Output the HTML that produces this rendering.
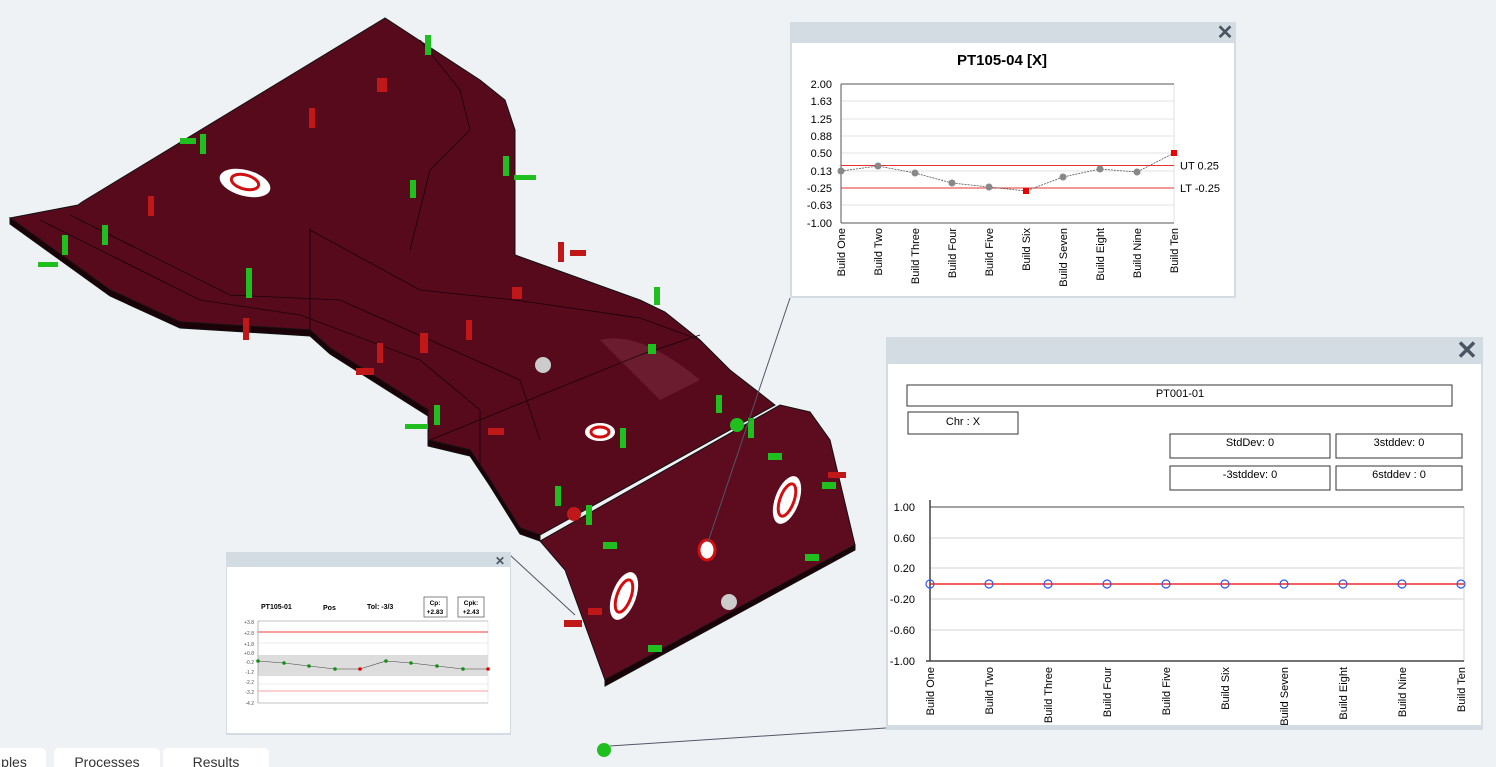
<!DOCTYPE html>
<html><head><meta charset="utf-8"><style>
html,body{margin:0;padding:0;width:1496px;height:767px;overflow:hidden;background:#eef2f5;font-family:"Liberation Sans",Arial,sans-serif}
svg{position:absolute;left:0;top:0}
</style></head><body>
<svg width="1496" height="767" viewBox="0 0 1496 767" font-family="Liberation Sans, Arial, sans-serif">
<rect width="1496" height="767" fill="#eef2f5"/>
<!-- part body -->
<g stroke="#111" stroke-width="1">
<path d="M10,218 L78,205 L82,202 L385,18 L480,80 L505,100 L515,130 L515,255 L640,300 L665,312 L700,340 L730,370 L775,405 L540,535 L520,528 L490,480 L470,450 L428,440 L428,410 L330,348 L310,330 L180,322 L110,290 Z" fill="#560a1c"/>
<path d="M10,218 L10,224 L110,296 L180,328 L310,336 L330,354 L428,416 L428,446 L470,456 L490,486 L520,534 L540,541 L540,535 L520,528 L490,480 L470,450 L428,440 L428,410 L330,348 L310,330 L180,322 L110,290 Z" fill="#1a0208"/>
<path d="M540,541 L780,405 L810,412 L830,440 L855,545 L605,680 L565,570 Z" fill="#5c0c1e"/>
<path d="M605,680 L855,545 L855,550 L605,686 Z" fill="#1a0208"/>
</g>
<path d="M600,340 Q640,330 700,380 L660,400 Z" fill="#7a2a3c" opacity="0.6"/>
<g fill="none" stroke="#1a0208" stroke-width="0.8">
<path d="M40,220 L200,300 L300,315 L420,360 L480,410 L480,470"/>
<path d="M70,215 L230,295 L340,300 L430,340 L520,380 L540,440"/>
<path d="M310,230 L420,290 L515,300 L640,318 L700,340"/>
<path d="M420,40 L460,90 L470,130 L430,170 L410,250"/>
<path d="M310,228 L310,330"/>
<path d="M430,440 L640,355 L700,335"/>
</g>
<!-- holes -->
<ellipse cx="245" cy="183" rx="26" ry="13" fill="#fff" transform="rotate(15 245 183)"/>
<ellipse cx="245" cy="182" rx="14" ry="7" fill="none" stroke="#d01010" stroke-width="3" transform="rotate(15 245 182)"/>
<ellipse cx="600" cy="432" rx="15" ry="9" fill="#fff"/>
<ellipse cx="600" cy="432" rx="9" ry="5" fill="none" stroke="#d01010" stroke-width="3"/>
<ellipse cx="787" cy="500" rx="12" ry="25" fill="#fff" transform="rotate(20 787 500)"/>
<ellipse cx="787" cy="500" rx="7" ry="17" fill="none" stroke="#d01010" stroke-width="3" transform="rotate(20 787 500)"/>
<ellipse cx="624" cy="596" rx="12" ry="25" fill="#fff" transform="rotate(20 624 596)"/>
<ellipse cx="624" cy="596" rx="7" ry="17" fill="none" stroke="#d01010" stroke-width="3" transform="rotate(20 624 596)"/>
<ellipse cx="707" cy="550" rx="8" ry="10" fill="#fff" stroke="#d01010" stroke-width="3"/>
<!-- markers -->
<g fill="#1fbf1f">
<rect x="425" y="35" width="6" height="20"/><rect x="200" y="134" width="6" height="20"/><rect x="62" y="235" width="6" height="20"/>
<rect x="246" y="268" width="6" height="30"/><rect x="410" y="180" width="6" height="18"/><rect x="503" y="156" width="6" height="20"/>
<rect x="654" y="287" width="6" height="18"/><rect x="716" y="395" width="6" height="18"/><rect x="434" y="405" width="6" height="20"/>
<rect x="620" y="428" width="6" height="20"/><rect x="555" y="486" width="6" height="20"/><rect x="586" y="505" width="6" height="20"/>
<rect x="748" y="418" width="6" height="20"/><rect x="514" y="175" width="22" height="5"/><rect x="405" y="424" width="22" height="5"/>
<rect x="38" y="262" width="20" height="5"/><rect x="180" y="138" width="16" height="6"/><rect x="102" y="225" width="6" height="20"/>
<circle cx="737" cy="425" r="7"/><rect x="768" y="453" width="14" height="7"/><rect x="603" y="542" width="14" height="7"/>
<rect x="822" y="482" width="14" height="7"/><rect x="805" y="554" width="14" height="7"/><rect x="648" y="645" width="14" height="7"/>
<rect x="648" y="344" width="8" height="10"/><circle cx="604" cy="750" r="7"/>
</g>
<g fill="#c01818">
<rect x="148" y="196" width="6" height="20"/><rect x="309" y="108" width="6" height="20"/><rect x="377" y="78" width="10" height="14"/>
<rect x="377" y="343" width="6" height="20"/><rect x="466" y="320" width="6" height="20"/><rect x="558" y="242" width="6" height="20"/>
<rect x="243" y="318" width="6" height="22"/><rect x="420" y="333" width="8" height="20"/><rect x="512" y="287" width="10" height="12"/>
<rect x="356" y="368" width="18" height="7"/><rect x="488" y="428" width="16" height="7"/><rect x="570" y="250" width="16" height="6"/>
<circle cx="574" cy="514" r="7"/><rect x="564" y="620" width="18" height="7"/><rect x="588" y="608" width="14" height="7"/>
<rect x="828" y="472" width="18" height="6"/>
</g>
<circle cx="543" cy="365" r="8" fill="#ccc"/><circle cx="729" cy="602" r="8" fill="#ccc"/>
<!-- connectors -->
<g stroke="#556" stroke-width="1"><line x1="790" y1="298" x2="708" y2="542"/><line x1="510" y1="555" x2="575" y2="615"/><line x1="886" y1="728" x2="610" y2="746"/></g>

<!-- Panel PT105-04 -->
<rect x="790" y="22" width="446" height="276" fill="#d4dce3"/>
<rect x="792" y="43" width="442" height="253" fill="#fff"/>
<text x="1225" y="39" font-size="20" font-weight="bold" fill="#4a5563" text-anchor="middle">✕</text>
<text x="1002" y="65" font-size="15" font-weight="bold" text-anchor="middle">PT105-04 [X]</text>
<g stroke="#e2e2e2"><line x1="841" y1="101" x2="1174" y2="101"/><line x1="841" y1="119" x2="1174" y2="119"/><line x1="841" y1="136" x2="1174" y2="136"/><line x1="841" y1="153" x2="1174" y2="153"/><line x1="841" y1="171" x2="1174" y2="171"/><line x1="841" y1="205" x2="1174" y2="205"/><line x1="1174" y1="84" x2="1174" y2="223"/></g>
<line x1="841" y1="84" x2="1174" y2="84" stroke="#555"/>
<line x1="841" y1="84" x2="841" y2="223" stroke="#555"/><line x1="841" y1="223" x2="1174" y2="223" stroke="#555"/>
<line x1="841" y1="165.5" x2="1174" y2="165.5" stroke="#e63030"/><line x1="841" y1="188" x2="1174" y2="188" stroke="#e63030"/>
<text x="1180" y="169.5" font-size="11">UT 0.25</text><text x="1180" y="192" font-size="11">LT -0.25</text>
<g font-size="11" text-anchor="end"><text x="832" y="88">2.00</text><text x="832" y="105">1.63</text><text x="832" y="123">1.25</text><text x="832" y="140">0.88</text><text x="832" y="157">0.50</text><text x="832" y="175">0.13</text><text x="832" y="192">-0.25</text><text x="832" y="209">-0.63</text><text x="832" y="227">-1.00</text></g>
<polyline points="841,171 878,166 915,173 952,183 989,187 1026,191 1063,177 1100,169 1137,172 1174,153" fill="none" stroke="#555" stroke-width="0.8" stroke-dasharray="2,1"/>
<g fill="#888"><circle cx="841" cy="171" r="3.5"/><circle cx="878" cy="166" r="3.5"/><circle cx="915" cy="173" r="3.5"/><circle cx="952" cy="183" r="3.5"/><circle cx="989" cy="187" r="3.5"/><circle cx="1063" cy="177" r="3.5"/><circle cx="1100" cy="169" r="3.5"/><circle cx="1137" cy="172" r="3.5"/></g>
<rect x="1023" y="188" width="6" height="6" fill="#e00"/><rect x="1171" y="150" width="6" height="6" fill="#e00"/>
<g font-size="11" text-anchor="end">
<text transform="translate(845,228) rotate(-90)">Build One</text><text transform="translate(882,228) rotate(-90)">Build Two</text><text transform="translate(919,228) rotate(-90)">Build Three</text><text transform="translate(956,228) rotate(-90)">Build Four</text><text transform="translate(993,228) rotate(-90)">Build Five</text><text transform="translate(1030,228) rotate(-90)">Build Six</text><text transform="translate(1067,228) rotate(-90)">Build Seven</text><text transform="translate(1104,228) rotate(-90)">Build Eight</text><text transform="translate(1141,228) rotate(-90)">Build Nine</text><text transform="translate(1178,228) rotate(-90)">Build Ten</text></g>

<!-- Panel PT001-01 -->
<rect x="886" y="337" width="597" height="393" fill="#d4dce3"/>
<rect x="888" y="364" width="593" height="361" fill="#fff"/>
<text x="1467" y="359" font-size="26" font-weight="bold" fill="#4a5563" text-anchor="middle">✕</text>
<g fill="none" stroke="#333"><rect x="907" y="385" width="545" height="21"/><rect x="908" y="412" width="110" height="22"/><rect x="1170" y="434" width="160" height="24"/><rect x="1336" y="434" width="126" height="24"/><rect x="1170" y="466" width="160" height="24"/><rect x="1336" y="466" width="126" height="24"/></g>
<g font-size="11" text-anchor="middle"><text x="1180" y="397">PT001-01</text><text x="963" y="425">Chr : X</text><text x="1250" y="446">StdDev: 0</text><text x="1399" y="446">3stddev:  0</text><text x="1250" y="478">-3stddev:  0</text><text x="1399" y="478">6stddev : 0</text></g>
<g stroke="#e2e2e2" stroke-width="1.5"><line x1="930" y1="538" x2="1464" y2="538"/><line x1="930" y1="568" x2="1464" y2="568"/><line x1="930" y1="599" x2="1464" y2="599"/><line x1="930" y1="630" x2="1464" y2="630"/><line x1="1464" y1="507" x2="1464" y2="661"/></g>
<line x1="930" y1="507" x2="1464" y2="507" stroke="#444"/><line x1="930" y1="500" x2="930" y2="661" stroke="#444" stroke-width="1.5"/><line x1="926" y1="661" x2="1464" y2="661" stroke="#444" stroke-width="1.5"/>
<line x1="930" y1="584" x2="1464" y2="584" stroke="#e00" stroke-width="1.2"/>
<g font-size="11" text-anchor="end"><text x="915" y="511">1.00</text><text x="915" y="542">0.60</text><text x="915" y="572">0.20</text><text x="915" y="603">-0.20</text><text x="915" y="634">-0.60</text><text x="915" y="665">-1.00</text></g>
<g fill="none" stroke="#3355ee" stroke-width="1.2">
<circle cx="930" cy="584" r="4"/><circle cx="989" cy="584" r="4"/><circle cx="1048" cy="584" r="4"/><circle cx="1107" cy="584" r="4"/><circle cx="1166" cy="584" r="4"/><circle cx="1225" cy="584" r="4"/><circle cx="1284" cy="584" r="4"/><circle cx="1343" cy="584" r="4"/><circle cx="1402" cy="584" r="4"/><circle cx="1461" cy="584" r="4"/></g>
<g font-size="11" text-anchor="end">
<text transform="translate(934,667) rotate(-90)">Build One</text><text transform="translate(993,667) rotate(-90)">Build Two</text><text transform="translate(1052,667) rotate(-90)">Build Three</text><text transform="translate(1111,667) rotate(-90)">Build Four</text><text transform="translate(1170,667) rotate(-90)">Build Five</text><text transform="translate(1229,667) rotate(-90)">Build Six</text><text transform="translate(1288,667) rotate(-90)">Build Seven</text><text transform="translate(1347,667) rotate(-90)">Build Eight</text><text transform="translate(1406,667) rotate(-90)">Build Nine</text><text transform="translate(1465,667) rotate(-90)">Build Ten</text></g>

<!-- small panel -->
<rect x="226" y="552" width="285" height="183" fill="#d4dce3"/>
<rect x="227" y="567" width="283" height="166" fill="#fff"/>
<text x="500" y="565" font-size="12" font-weight="bold" fill="#4a5563" text-anchor="middle">✕</text>
<g font-size="7" font-weight="bold"><text x="261" y="609">PT105-01</text><text x="323" y="610">Pos</text><text x="367" y="609">Tol: -3/3</text></g>
<rect x="424" y="597" width="23" height="20" fill="none" stroke="#333" stroke-width="0.6"/><rect x="458" y="597" width="26" height="20" fill="none" stroke="#333" stroke-width="0.6"/>
<g font-size="6.5" font-weight="bold" text-anchor="middle"><text x="435" y="605">Cp:</text><text x="435" y="614">+2.83</text><text x="471" y="605">Cpk:</text><text x="471" y="614">+2.43</text></g>
<rect x="258" y="655" width="230" height="21" fill="#ddd"/>
<g stroke="#ddd" stroke-width="0.6"><line x1="258" y1="643" x2="488" y2="643"/><line x1="258" y1="684" x2="488" y2="684"/><line x1="488" y1="621" x2="488" y2="703"/></g>
<line x1="258" y1="621" x2="488" y2="621" stroke="#888" stroke-width="0.6"/><line x1="258" y1="621" x2="258" y2="703" stroke="#888" stroke-width="0.6"/><line x1="258" y1="703" x2="488" y2="703" stroke="#888" stroke-width="0.6"/>
<line x1="258" y1="632" x2="488" y2="632" stroke="#f04040"/><line x1="258" y1="691" x2="488" y2="691" stroke="#f8a0a0"/>
<polyline points="258,661 284,663 309,666 335,669 360,669 386,661 411,663 437,666 463,669 488,669" fill="none" stroke="#444" stroke-width="0.6"/>
<g fill="#109010"><circle cx="258" cy="661" r="1.8"/><circle cx="284" cy="663" r="1.8"/><circle cx="309" cy="666" r="1.8"/><circle cx="335" cy="669" r="1.8"/><circle cx="386" cy="661" r="1.8"/><circle cx="411" cy="663" r="1.8"/><circle cx="437" cy="666" r="1.8"/><circle cx="463" cy="669" r="1.8"/></g>
<circle cx="360" cy="669" r="1.8" fill="#e00"/><circle cx="488" cy="669" r="1.8" fill="#e00"/>
<g font-size="5" fill="#555" text-anchor="end"><text x="254" y="624">+3.8</text><text x="254" y="635">+2.8</text><text x="254" y="646">+1.8</text><text x="254" y="655">+0.8</text><text x="254" y="664">-0.2</text><text x="254" y="674">-1.2</text><text x="254" y="684">-2.2</text><text x="254" y="694">-3.2</text><text x="254" y="705">-4.2</text></g>

<!-- tabs -->
<g fill="#fff"><rect x="-10" y="748" width="56" height="25" rx="5"/><rect x="54" y="748" width="106" height="25" rx="5"/><rect x="163" y="748" width="106" height="25" rx="5"/></g>
<g font-size="14" fill="#333" text-anchor="middle"><text x="14" y="767">ples</text><text x="107" y="767">Processes</text><text x="216" y="767">Results</text></g>
</svg>
</body></html>
